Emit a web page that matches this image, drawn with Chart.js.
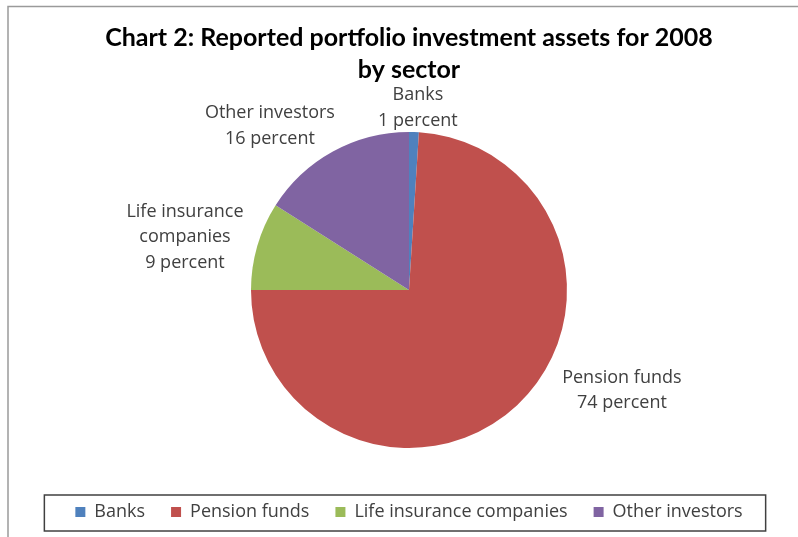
<!DOCTYPE html>
<html lang="en">
<head>
  <meta charset="UTF-8" />
  <title>Reported portfolio investment assets for 2008 by sector</title>
  <script src="https://cdn.jsdelivr.net/npm/chart.js"></script>
  <style>
    html, body { margin: 0; padding: 0; background: #ffffff; }
    #wrap { width: 798px; height: 537px; }
  </style>
</head>
<body>
  <div id="wrap"><canvas id="sectorPie"></canvas></div>

  <script>
    // sectors and their share of reported assets (percent)
    const sectors = ['Banks', 'Pension funds', 'Life insurance companies', 'Other investors'];
    const shares = [1, 74, 9, 16];
    // how each sector name breaks over lines in the slice labels
    const labelLines = [['Banks'], ['Pension funds'], ['Life insurance', 'companies'], ['Other investors']];
    const sliceColors = ['#4f81bd', '#c0504d', '#9bbb59', '#8064a2'];

    // label placement around the pie: angle shift (deg) from slice middle, distance in radii
    const labelPlace = [
      { shift: 1, dist: 1.153 },
      { shift: -21.6, dist: 1.489 },
      { shift: -2.9, dist: 1.457 },
      { shift: -11.5, dist: 1.361 }
    ];

    const labelFont = '18px "Open Sans", sans-serif';

    // grey frame on top and left, like the cropped chart border
    const framePlugin = {
      id: 'frame',
      beforeDraw(chart) {
        const ctx = chart.ctx;
        ctx.save();
        ctx.strokeStyle = '#9a9a9a';
        ctx.lineWidth = 1.5;
        ctx.beginPath();
        ctx.moveTo(8, chart.height);
        ctx.lineTo(8, 6.5);
        ctx.lineTo(chart.width, 6.5);
        ctx.stroke();
        ctx.restore();
      }
    };

    // "name / N percent" labels outside the slices
    const sliceLabels = {
      id: 'sliceLabels',
      afterDatasetsDraw(chart) {
        const ctx = chart.ctx;
        const arcs = chart.getDatasetMeta(0).data;
        ctx.save();
        ctx.font = labelFont;
        ctx.fillStyle = '#404040';
        ctx.textAlign = 'center';
        ctx.textBaseline = 'middle';
        const lh = 25.5;
        arcs.forEach((arc, i) => {
          const p = arc.getProps(['x', 'y', 'startAngle', 'endAngle', 'outerRadius'], true);
          const mid = (p.startAngle + p.endAngle) / 2 + labelPlace[i].shift * Math.PI / 180;
          const r = p.outerRadius * labelPlace[i].dist;
          const cx = p.x + Math.cos(mid) * r;
          const cy = p.y + Math.sin(mid) * r;
          const lines = labelLines[i].concat([shares[i] + ' percent']);
          const top = cy - (lines.length - 1) * lh / 2;
          lines.forEach((t, k) => ctx.fillText(t, cx, top + k * lh));
        });
        ctx.restore();
      }
    };

    // box round the legend entries
    const legendBox = {
      id: 'legendBox',
      afterDraw(chart) {
        const boxes = chart.legend.legendHitBoxes;
        if (!boxes || !boxes.length) return;
        const left = Math.min(...boxes.map(b => b.left)) - 31;
        const right = Math.max(...boxes.map(b => b.left + b.width)) + 23;
        const midY = boxes[0].top + boxes[0].height / 2;
        const ctx = chart.ctx;
        ctx.save();
        ctx.strokeStyle = '#404040';
        ctx.lineWidth = 1.5;
        ctx.strokeRect(left, midY - 17, right - left, 36);
        ctx.restore();
      }
    };

    new Chart(document.getElementById('sectorPie'), {
      type: 'pie',
      data: {
        labels: sectors,
        datasets: [{
          data: shares,
          backgroundColor: sliceColors,
          borderWidth: 0
        }]
      },
      options: {
        responsive: true,
        maintainAspectRatio: false,
        animation: false,
        radius: 158,
        layout: { padding: { left: 20, right: 0, top: 0, bottom: 6 } },
        plugins: {
          title: {
            display: true,
            text: ['Chart 2: Reported portfolio investment assets for 2008', 'by sector'],
            color: '#000000',
            font: { family: 'Lato, sans-serif', size: 25, weight: 'bold', lineHeight: 1.28 },
            padding: { top: 22, bottom: 17 }
          },
          legend: {
            position: 'bottom',
            labels: {
              boxWidth: 10,
              boxHeight: 10,
              padding: 26,
              color: '#404040',
              font: { family: '"Open Sans", sans-serif', size: 18 }
            }
          },
          tooltip: { enabled: false }
        }
      },
      plugins: [framePlugin, sliceLabels, legendBox]
    });
  </script>
</body>
</html>
